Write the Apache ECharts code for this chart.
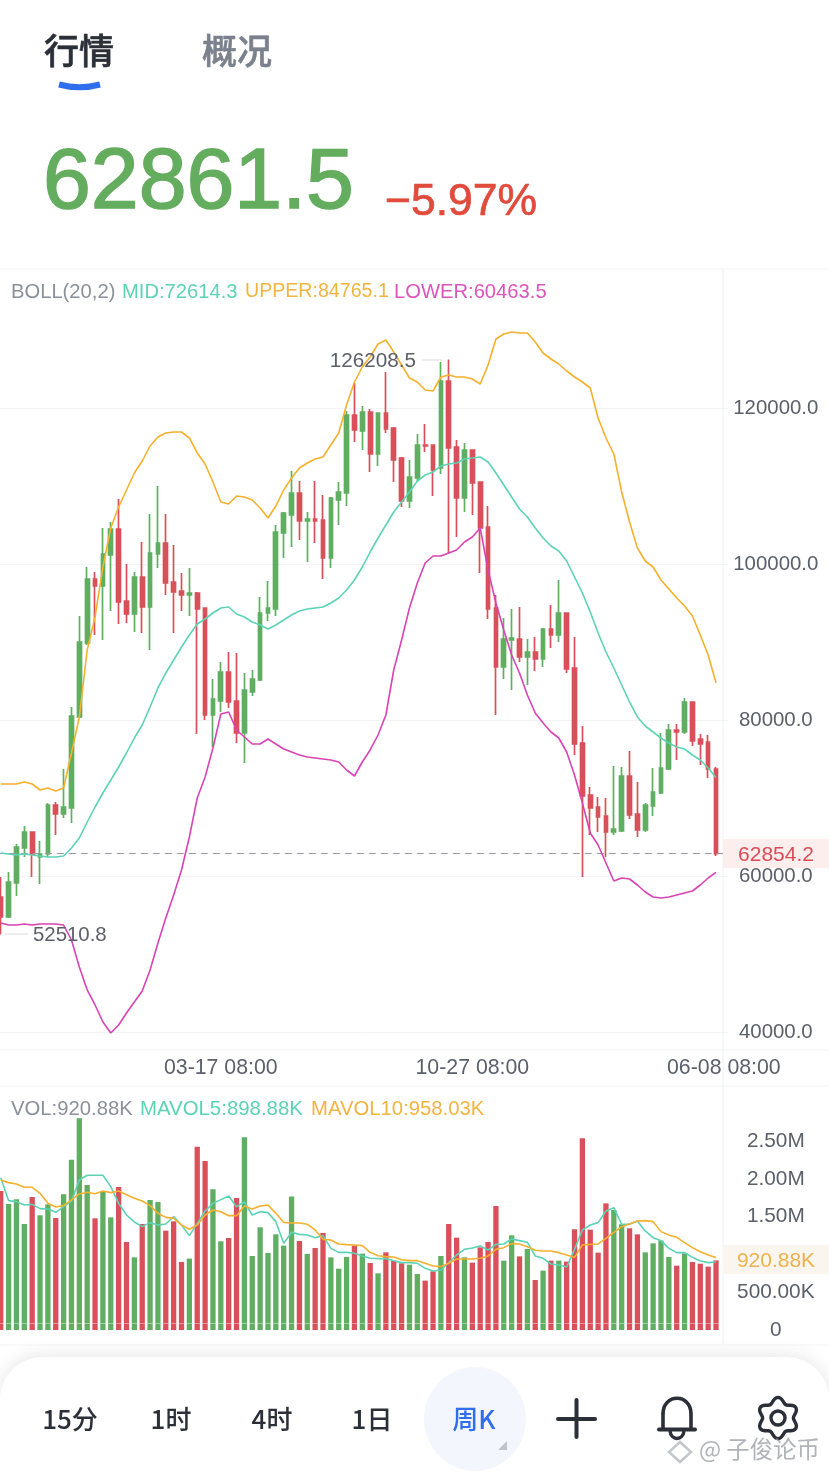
<!DOCTYPE html>
<html><head><meta charset="utf-8">
<style>html,body{margin:0;padding:0;background:#fff}#c{width:829px;height:1475px}</style>
<script src="https://cdn.jsdelivr.net/npm/echarts@6/dist/echarts.min.js"></script>
</head><body><div id="c"></div>
<script>
const tickLabels = {28:'03-17 08:00',60:'10-27 08:00',92:'06-08 08:00'};
const priceTicks = [40000,60000,80000,100000,120000];
const volTicks = [0,500000,1000000,1500000,2000000,2500000];

const opens = [57308,54744,59103,63590,65641,62436,62821,69103,67949,68718,80385,89872,98077,97179,101154,104487,95256,93590,98333,94487,101282,102692,97692,96538,96026,96282,94359,80641,82436,86154,82436,78333,83590,85128,93718,94231,103974,106282,109103,105513,105769,105641,100769,108205,109103,119103,117051,119487,114103,119359,117436,113590,108077,111026,115256,115256,112308,123462,115000,108462,114615,110513,104744,94359,86795,90256,90385,88077,88718,87821,91667,90897,93718,86667,77051,70385,68846,67692,65641,65769,72821,67949,65897,68974,70641,73718,78718,78462,82308,77564,77179,73718];
const closes = [54744,59231,63718,65641,62821,62821,69103,67949,68846,80513,90000,98077,97179,101282,104487,95128,93590,98333,94487,101410,102692,97564,96410,96026,96282,94231,80641,82692,86154,82308,78333,83846,85256,93718,94359,104103,106538,109103,105513,105769,105513,100769,108462,109231,119103,117179,119487,114103,119359,117308,113333,108077,111154,115256,115128,112051,123462,114872,108462,114615,110385,104615,94231,86795,90385,90513,88077,88718,87821,91667,90897,93718,86538,76923,70256,68718,67564,65641,66026,72821,67821,65897,69103,70769,73846,78718,78462,82308,77308,76923,73718,62861.5];
const lows = [52510.8,54615,57436,62436,59872,58974,62436,65256,67436,66795,80256,89615,90897,90256,93974,92308,92436,91282,91154,88974,99487,96026,91154,93974,93333,78205,80000,76538,81026,81538,77051,74487,83077,85000,92692,93333,100769,102179,103077,100256,102692,98077,99487,105000,107436,115641,114615,111795,112564,116795,110513,107308,107179,110513,114359,108718,111538,101410,103462,106667,106282,98846,92949,80641,85256,83846,87436,84487,86282,86795,89231,90000,86026,75513,59872,65256,65641,62436,65256,65641,67308,65000,65641,67692,70513,73590,74872,78205,76667,74231,72564,62564];
const highs = [59872,60513,64102,66410,65641,64487,69359,69487,73718,81667,93333,99615,98974,104615,105385,108333,100000,98974,102821,106410,110000,106410,102436,98846,99487,96410,94359,85256,87436,88718,88590,86026,86410,95769,97821,105000,106667,111923,110641,106667,110641,108846,108590,110513,119615,123205,120256,119872,119359,124615,117564,113718,113333,116667,117949,115256,125897,126208.5,115897,115513,114615,110513,107436,96026,93077,94231,94487,90385,90641,91795,94744,97949,93718,90641,79231,71410,70128,70000,74103,73974,76026,72051,69359,73846,78333,79487,79487,82821,82308,78205,78077,73974];
const bollUpper = [71795,71795,71795,72051,71795,71026,71282,70897,71282,75769,80385,88974,93205,99615,104615,107308,109487,111667,113205,115128,116282,116795,116923,116923,116154,114231,112821,110513,107949,107692,108718,108590,108205,107179,105897,107436,109487,111026,112308,112949,113462,113718,115256,116795,120385,123333,125256,126538,128205,128718,127179,125513,123846,123333,122308,122179,123974,124231,123974,123974,123718,123077,125513,128846,129487,129744,129615,129615,128462,127051,126282,125641,124744,123974,123333,122564,118718,116154,114103,109231,105385,102051,100385,99615,97949,96795,95641,94615,93333,90897,88333,84765.1];
const bollMid = [62949,62821,62692,62821,62692,62564,62436,62436,62564,63590,64872,66923,68846,70641,72308,73974,75769,77692,79359,81667,84103,86026,87692,89359,90897,92308,92949,93718,94359,94487,93590,93205,92564,92179,91667,92179,92821,93462,93974,94231,94359,94487,95000,95641,96667,97949,99615,101538,103333,105000,106667,107949,109231,110641,111410,111795,112564,112821,112949,113462,113590,113718,113077,111667,110128,108590,107051,106026,104615,103333,102308,101667,100385,98333,96282,93846,91154,88718,86667,84487,82308,80385,79231,78462,77692,77051,76538,76282,75513,74872,73846,72614.3];
const bollLower = [53974,53718,53718,53846,53718,53846,53846,53846,53718,51795,48333,45385,43462,41282,39872,40897,42436,43846,45256,47949,51410,54615,57564,60769,65000,70000,72692,76410,80769,81026,78718,77821,76923,76923,77564,76923,76282,75897,75513,75256,75128,75000,74872,74615,73590,72821,74615,76154,78077,80641,86410,90256,94359,97564,100128,101026,101026,101410,101795,102821,103462,104615,99231,95000,91538,88333,86026,83205,80897,79615,78462,77692,75897,72949,69359,65513,63974,61667,59359,59744,59615,58846,57949,57308,57179,57308,57564,57821,58077,58846,59744,60463.5];
const volumes = [1839,1667,1728,1402,1759,1517,1662,1481,1795,2253,2800,1918,1477,1830,1490,1892,1164,961,1402,1720,1693,1314,1437,899,944,2425,2235,1861,1173,1217,1746,2549,979,1358,1019,1265,1116,1764,1177,1005,1085,1283,961,811,966,1116,1010,886,750,1027,917,882,864,741,653,776,979,1402,1221,961,891,1093,1164,1640,917,1252,974,1071,661,785,917,917,904,1332,2535,1327,1023,1675,1587,1398,1345,1265,1027,1146,1182,966,851,1014,899,877,838,920.88];
const mavol5 = [2015,1711,1698,1653,1662,1605,1601,1556,1631,1706,1984,2046,2046,2046,1896,1675,1521,1429,1367,1420,1389,1402,1499,1389,1248,1411,1574,1675,1724,1772,1631,1693,1521,1565,1552,1433,1146,1292,1265,1257,1221,1248,1080,1027,1027,1014,979,948,944,944,917,891,891,882,816,780,794,891,992,1067,1085,1111,1058,1133,1138,1204,1182,1160,979,948,873,860,833,1067,1323,1389,1420,1574,1618,1398,1398,1442,1310,1221,1182,1080,1023,1023,961,913,891,898.88];
const mavol10 = [1984,1949,1931,1887,1887,1808,1675,1627,1645,1720,1799,1821,1803,1839,1817,1839,1790,1742,1706,1645,1543,1490,1477,1389,1332,1389,1521,1587,1565,1512,1512,1640,1601,1640,1653,1543,1424,1415,1415,1398,1323,1199,1190,1138,1129,1124,1116,1027,983,970,966,930,917,917,882,847,838,882,939,939,939,948,979,1067,1089,1142,1138,1102,1054,1045,1045,1023,992,961,1124,1133,1138,1213,1292,1367,1402,1442,1446,1433,1301,1257,1226,1155,1089,1036,992,958.03];
const lastPrice = 62854.2;

const GREEN='#5fae62', RED='#d9505a', TEAL='#5dd3b6', ORANGE='#f5b02e', MAGENTA='#d943b3';
const GRID='#f2f3f7', LABEL='#5c6069', SANS='"Liberation Sans",Arial,sans-serif', CJK='"Noto Sans CJK SC",sans-serif', INK='#2b2f38';
const cats = Array.from({length:opens.length+1},(_,i)=>tickLabels[i]||'');
const k = v=>v*1000;
const fmtVol = v=> v===0?'0': v>=1e6?(v/1e6).toFixed(2)+'M':(v/1e3).toFixed(2)+'K';
const line=(name,data,color,xi,yi,w)=>({name,type:'line',data,xAxisIndex:xi,yAxisIndex:yi,showSymbol:false,symbol:'none',smooth:false,lineStyle:{color,width:w||1.6},z:5,silent:true});
const T=(x,y,text,fill,size,o)=>({type:'text',x,y,z:50,silent:true,style:{text,fill,font:`${(o&&o.w)||'normal'} ${size}px ${(o&&o.f)||SANS}`,align:(o&&o.a)||'left',verticalAlign:'middle',stroke:o&&o.s?fill:null,lineWidth:o&&o.s||0}});
const HL=(y,c)=>({type:'line',z:2,silent:true,shape:{x1:0,y1:y,x2:829,y2:y},style:{stroke:c||GRID,lineWidth:1}});
const S=(x1,y1,x2,y2,w,c)=>({type:'line',z:47,silent:true,shape:{x1,y1,x2,y2},style:{stroke:c||INK,lineWidth:w,lineCap:'round'}});
const gear=[];for(let i=0;i<=96;i++){const a=i/96*Math.PI*2,r=18+2.6*Math.cos(6*a);gear.push([778+r*Math.sin(a),1418-r*Math.cos(a)]);}

const option={animation:false,backgroundColor:'#fff',
 grid:[{left:-3.2,top:269,width:731,height:781,outerBoundsMode:'none'},{left:-3.2,top:1086,width:731,height:244,outerBoundsMode:'none'}],
 xAxis:[0,1].map(i=>({type:'category',gridIndex:i,data:cats,boundaryGap:true,axisLine:{show:false},axisTick:{show:false},splitLine:{show:false},
   axisLabel:{show:i===0,interval:(n,v)=>v!=='',color:LABEL,fontFamily:SANS,fontSize:21.3,margin:8,hideOverlap:false,showMinLabel:true,showMaxLabel:true}})),
 yAxis:[
  {type:'value',gridIndex:0,position:'right',min:37692,max:137820,axisLine:{show:false},axisTick:{show:false,customValues:priceTicks},
   splitLine:{show:true,lineStyle:{color:GRID,width:1}},
   axisLabel:{customValues:priceTicks,color:LABEL,fontFamily:SANS,fontSize:20.4,align:'center',margin:48,padding:[6,0,0,0],formatter:v=>v.toFixed(1)}},
  {type:'value',gridIndex:1,position:'right',min:0,max:3227000,axisLine:{show:false},axisTick:{show:false,customValues:volTicks},splitLine:{show:false},
   axisLabel:{customValues:volTicks,color:LABEL,fontFamily:SANS,fontSize:20.8,align:'center',margin:48,padding:[6,0,0,0],formatter:fmtVol}}],
 series:[
  {type:'candlestick',name:'K',data:opens.map((o,i)=>[o,closes[i],lows[i],highs[i]]),xAxisIndex:0,yAxisIndex:0,barWidth:4.2,silent:true,z:3,
   itemStyle:{color:GREEN,color0:RED,borderColor:GREEN,borderColor0:RED,borderWidth:1.7,borderColorDoji:GREEN},
   markLine:{silent:true,symbol:'none',label:{show:false},lineStyle:{color:'#9a9aa6',type:[7,5],width:1.2},data:[{yAxis:lastPrice}]}},
  line('UPPER',bollUpper,ORANGE,0,0),line('MID',bollMid,TEAL,0,0),line('LOWER',bollLower,MAGENTA,0,0),
  {type:'bar',name:'VOL',data:volumes.map((v,i)=>({value:k(v),itemStyle:{color:closes[i]>=opens[i]?GREEN:RED}})),xAxisIndex:1,yAxisIndex:1,barWidth:5.3,silent:true,z:3,
   markLine:{silent:true,symbol:'none',label:{show:false},lineStyle:{color:'rgba(255,255,255,.4)',type:'solid',width:1},data:[{yAxis:85000}]}},
  line('MAVOL5',mavol5.map(k),TEAL,1,1),line('MAVOL10',mavol10.map(k),ORANGE,1,1)
 ],
 graphic:{elements:[
  HL(269),HL(1050),HL(1086),HL(1345),
  {type:'line',z:2,silent:true,shape:{x1:723,y1:269,x2:723,y2:1345},style:{stroke:'#eef0f6',lineWidth:1}},
  T(44,51,'行情',INK,35,{f:CJK,w:'500',s:.6}),T(202,51,'概况','#7a808c',35,{f:CJK,w:'500',s:.6}),
  {type:'bezierCurve',z:50,silent:true,shape:{x1:59,y1:84.5,x2:100,y2:84.5,cpx1:79.5,cpy1:90},style:{fill:'none',stroke:'#2f6fed',lineWidth:6}},
  T(43,184,'62861.5','#64ad5f',86,{s:1.6}),
  T(385,202.5,'−5.97%','#e04b3c',44.5,{s:.7}),
  T(11,292,'BOLL(20,2)','#8c9098',20.2),T(122,292,'MID:72614.3',TEAL,20.2),T(245,292,'UPPER:84765.1','#f2b441',19.6),T(394,292,'LOWER:60463.5','#dc55bd',20.2),
  T(416,361,'126208.5',LABEL,20.7,{a:'right'}),
  {type:'line',z:40,silent:true,shape:{x1:422,y1:360,x2:442,y2:360},style:{stroke:'#d9dbe0',lineWidth:1}},
  T(33,935.5,'52510.8',LABEL,20.4),
  {type:'line',z:40,silent:true,shape:{x1:5,y1:934,x2:28,y2:934},style:{stroke:'#d9dbe0',lineWidth:1}},
  {type:'rect',z:40,silent:true,shape:{x:723,y:839,width:106,height:29},style:{fill:'#fbeeec'}},
  T(776,855.5,'62854.2','#dd4b57',21,{a:'center'}),
  T(11,1109,'VOL:920.88K','#8c9098',20.3),T(140,1109,'MAVOL5:898.88K',TEAL,20.4),T(311,1109,'MAVOL10:958.03K','#f2b441',20.3),
  {type:'rect',z:40,silent:true,shape:{x:723,y:1245,width:106,height:29},style:{fill:'#faf5ef'}},
  T(776,1261.5,'920.88K','#efb14e',21,{a:'center'}),
  {type:'rect',z:45,silent:true,shape:{x:0,y:1357,width:829,height:130,r:[42,42,0,0]},style:{fill:'#fff',shadowBlur:18,shadowColor:'rgba(0,0,0,.09)',shadowOffsetY:-3}},
  {type:'ellipse',z:46,silent:true,shape:{cx:475,cy:1419,rx:51,ry:52},style:{fill:'#f3f7fd'}},
  {type:'polygon',z:47,silent:true,shape:{points:[[507,1441],[507,1450],[498,1450]]},style:{fill:'#c0c4ca'}},
  T(70,1419,'15分',INK,26,{f:CJK,a:'center',w:'500'}),T(171,1419,'1时',INK,26,{f:CJK,a:'center',w:'500'}),
  T(272,1419,'4时',INK,26,{f:CJK,a:'center',w:'500'}),T(372,1419,'1日',INK,26,{f:CJK,a:'center',w:'500'}),
  T(474,1419,'周K','#2f6fed',26,{f:CJK,a:'center',w:'500'}),
  S(558,1419,595,1419,4),S(576.5,1400,576.5,1437,4),
  S(663,1429,663,1414,3.6),S(691,1429,691,1414,3.6),S(659,1429.5,695,1429.5,4),
  {type:'bezierCurve',z:47,silent:true,shape:{x1:663,y1:1414,x2:691,y2:1414,cpx1:663,cpy1:1393,cpx2:691,cpy2:1393},style:{fill:'none',stroke:INK,lineWidth:3.6}},
  {type:'bezierCurve',z:47,silent:true,shape:{x1:670,y1:1431,x2:684,y2:1431,cpx1:671,cpy1:1441,cpx2:683,cpy2:1441},style:{fill:'none',stroke:INK,lineWidth:3.4}},
  {type:'polygon',z:47,silent:true,shape:{points:gear},style:{fill:'none',stroke:INK,lineWidth:3.4}},
  {type:'circle',z:47,silent:true,shape:{cx:778,cy:1418,r:7},style:{fill:'none',stroke:INK,lineWidth:3.4}},
  {type:'polygon',z:48,silent:true,shape:{points:[[680,1442],[691,1452],[680,1462],[669,1452]]},style:{fill:'none',stroke:'rgba(170,175,180,.7)',lineWidth:2.5}},
  T(699,1449,'@ 子俊论币','rgba(150,155,160,.75)',23.4,{f:CJK})
 ]}
};
const chart=echarts.init(document.getElementById('c'),null,{width:829,height:1475});
chart.setOption(option);
</script></body></html>
